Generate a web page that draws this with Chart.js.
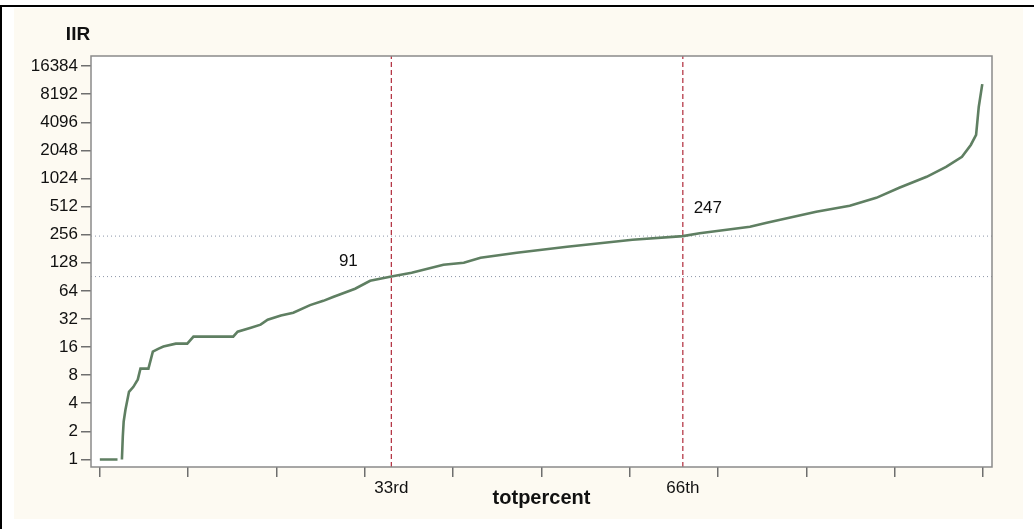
<!DOCTYPE html>
<html>
<head>
<meta charset="utf-8">
<script src="https://cdn.jsdelivr.net/npm/chart.js@4.4.1/dist/chart.umd.min.js"></script>
<style>
  body { margin: 0; background: #fff; width: 1034px; height: 529px; overflow: hidden; }
  #topline { position: absolute; left: 0; top: 5px; width: 1034px; height: 2px; background: #000; }
  #leftline { position: absolute; left: 0; top: 5px; width: 2px; height: 524px; background: #000; }
  #panel { position: absolute; left: 14px; top: 8px; width: 1009px; height: 511px; background: #fdfaf2; }
</style>
</head>
<body>
<div id="topline"></div>
<div id="leftline"></div>
<div id="panel"><canvas id="chart-iir" width="1009" height="511"></canvas></div>
<script>
// totpercent (x) and IIR (y)
const totPercent = [0, 2.0, 2.25, 2.5, 2.6, 2.7, 2.9, 3.3, 3.8, 4.3, 4.6, 5.5, 6.0, 6.6, 7.2, 8.6, 9.9, 10.6, 15.1,
  15.6, 17.1, 18.2, 19.0, 20.5, 21.9, 23.8, 25.3, 26.4, 28.9, 30.6, 33.0, 35.3, 38.9, 41.2, 43.1, 47.2,
  52.9, 60.3, 66.0, 67.9, 73.6, 75.5, 81.1, 84.9, 87.9, 90.5, 93.6, 95.8, 97.6, 98.6, 99.2, 99.5, 99.9]
const iirValues = [1, 1, null, 1, 1.76, 2.55, 3.4, 5.3, 6.0, 7.2, 9.4, 9.4, 14.3, 15.3, 16.2, 17.4, 17.4, 20.7, 20.7,
  23.4, 25.8, 27.8, 31.4, 34.8, 37.3, 45, 50, 55, 67.5, 82, 91, 100, 122, 128, 145, 164,
  190, 226, 247, 265, 311, 343, 450, 522, 635, 813, 1066, 1363, 1745, 2340, 3000, 5970, 10500]

// percentile cut points
const cutPercent = [33, 66]
const cutLabels = ['33rd', '66th']
const cutValues = [91, 247]

const xTicks = [0, 10, 20, 30, 40, 50, 60, 70, 80, 90, 100]
const yTicks = [1, 2, 4, 8, 16, 32, 64, 128, 256, 512, 1024, 2048, 4096, 8192, 16384]

const xMin = -1, xMax = 101
const yMin = 0.83, yMax = 21000

const fontFamily = "'Liberation Sans', Arial, sans-serif"

const curve = totPercent.map((p, i) => ({ x: p, y: iirValues[i] }))

const cutDatasets = []
cutPercent.forEach((p, i) => {
  cutDatasets.push({
    data: [{ x: p, y: yMin }, { x: p, y: yMax }],
    borderColor: '#b02a3a',
    borderWidth: 1.2,
    borderDash: [5, 3],
    pointRadius: 0,
    order: 2,
  })
  cutDatasets.push({
    data: [{ x: xMin, y: cutValues[i] }, { x: xMax, y: cutValues[i] }],
    borderColor: '#8c95a8',
    borderWidth: 1,
    borderDash: [1, 3],
    pointRadius: 0,
    order: 3,
  })
})

const framePlugin = {
  id: 'frame',
  beforeDraw(chart) {
    const { ctx, chartArea: a } = chart
    ctx.save()
    ctx.fillStyle = '#fff'
    ctx.fillRect(a.left, a.top, a.right - a.left, a.bottom - a.top)
    ctx.restore()
  },
  afterDraw(chart) {
    const { ctx, chartArea: a, scales } = chart
    ctx.save()
    ctx.strokeStyle = '#8a8a8a'
    ctx.lineWidth = 1.5
    ctx.strokeRect(a.left, a.top, a.right - a.left, a.bottom - a.top)

    ctx.fillStyle = '#111'
    ctx.textAlign = 'center'
    ctx.textBaseline = 'middle'
    ctx.font = 'bold 19px ' + fontFamily
    ctx.fillText('IIR', a.left - 13, a.top - 21)

    // value labels next to the cut points
    const offsets = [[-43, -15], [25, -28]]
    ctx.font = '17px ' + fontFamily
    cutValues.forEach((v, i) => {
      const px = scales.x.getPixelForValue(cutPercent[i]) + offsets[i][0]
      const py = scales.y.getPixelForValue(v) + offsets[i][1]
      ctx.fillText(String(v), px, py)
    })
    ctx.restore()
  },
}

const ctx = document.getElementById('chart-iir').getContext('2d')

const config = {
  type: 'line',
  data: {
    datasets: [
      {
        data: curve,
        borderColor: '#5f7f62',
        borderWidth: 2.6,
        pointRadius: 0,
        spanGaps: false,
        order: 1,
      },
      ...cutDatasets,
    ],
  },
  options: {
    responsive: false,
    animation: false,
    devicePixelRatio: 1,
    layout: { padding: { left: 0, top: 48, right: 31, bottom: 0 } },
    plugins: {
      legend: { display: false },
      tooltip: { enabled: false },
    },
    scales: {
      x: {
        type: 'linear',
        min: xMin,
        max: xMax,
        afterBuildTicks: (scale) => {
          scale.ticks = xTicks.concat(cutPercent).sort((a, b) => a - b).map(v => ({ value: v }))
        },
        afterFit: (scale) => { scale.height = 52 },
        border: { display: false },
        grid: {
          drawOnChartArea: false,
          tickLength: 10,
          tickColor: (c) => cutPercent.includes(c.tick && c.tick.value) ? 'rgba(0,0,0,0)' : '#6e6e6e',
          lineWidth: 1.5,
        },
        ticks: {
          autoSkip: false,
          maxRotation: 0,
          padding: 1,
          color: '#111',
          font: { family: fontFamily, size: 17 },
          callback: (v) => {
            const i = cutPercent.indexOf(v)
            return i >= 0 ? cutLabels[i] : ''
          },
        },
        title: {
          display: true,
          text: 'totpercent',
          color: '#111',
          font: { family: fontFamily, size: 20, weight: 'bold' },
          padding: { top: 0, bottom: 9 },
        },
      },
      y: {
        type: 'logarithmic',
        min: yMin,
        max: yMax,
        afterBuildTicks: (scale) => {
          scale.ticks = yTicks.map(v => ({ value: v }))
        },
        afterFit: (scale) => { scale.width = 77 },
        border: { display: false },
        grid: {
          drawOnChartArea: false,
          tickLength: 10,
          tickColor: '#6e6e6e',
          lineWidth: 1.5,
        },
        ticks: {
          padding: 3,
          color: '#111',
          font: { family: fontFamily, size: 17 },
          callback: (v) => String(v),
        },
      },
    },
  },
  plugins: [framePlugin],
}

const myChart = new Chart(ctx, config)
</script>
</body>
</html>
